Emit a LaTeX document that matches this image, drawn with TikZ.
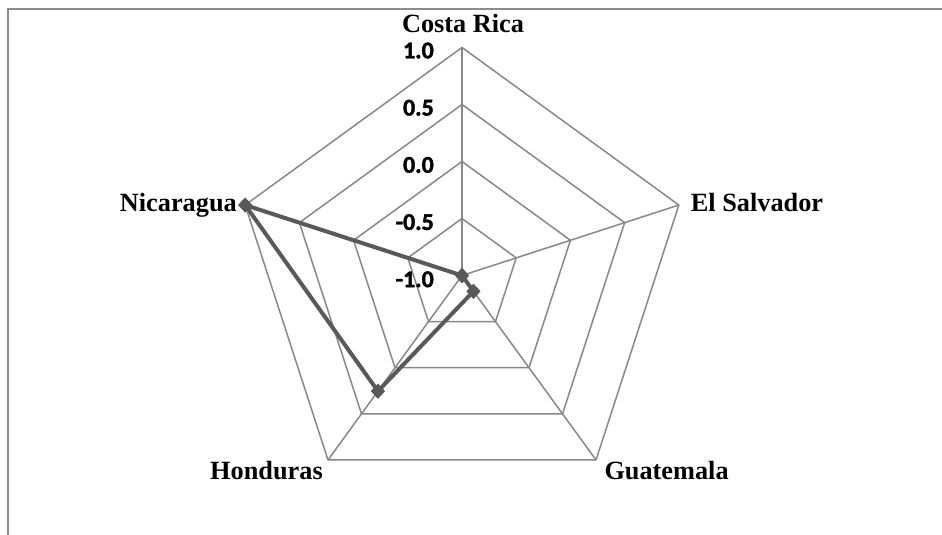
\documentclass[tikz,border=0pt]{standalone}
\usepackage{fontspec}
\setmainfont{Liberation Serif}
\newfontfamily\axisfont[FakeBold=1.6]{Carlito Bold}
\usetikzlibrary{shapes.geometric}
\definecolor{gridgray}{HTML}{888888}
\definecolor{seriesgray}{HTML}{595959}
\definecolor{framegray}{HTML}{8C8C8C}
\begin{document}
\begin{tikzpicture}[x=1pt,y=-1pt,
  gridline/.style={draw=gridgray,line width=1.5pt},
  series/.style={draw=seriesgray,line width=4pt,line join=round},
  mk/.style={diamond,fill=seriesgray,draw=none,minimum width=14pt,minimum height=15pt,inner sep=0pt},
  cat/.style={inner sep=0pt,font=\fontsize{26.3}{30}\selectfont\bfseries},
  ax/.style={inner sep=0pt,anchor=base east,font=\axisfont\fontsize{24}{28}\selectfont},
  framel/.style={draw=framegray,line width=2pt}]
\useasboundingbox (0,0) rectangle (942,535);
\fill[white] (0,0) rectangle (942,535);
\draw[framel] (8,535) -- (8,9) -- (942,9);
\coordinate (c) at (462,275.5);
\begin{scope}[shift={(462,275.5)}]
  \foreach \r in {57,114,171,228}
    \draw[gridline] (-90:\r) -- (-18:\r) -- (54:\r) -- (126:\r) -- (198:\r) -- cycle;
  \coordinate (vCR) at (-90:228);
  \coordinate (vES) at (-18:228);
  \coordinate (vGu) at (54:228);
  \coordinate (vHo) at (126:228);
  \coordinate (vNi) at (198:228);
  \coordinate (dGu) at (54:19.5);
  \coordinate (dHo) at (126:143);
\end{scope}
\foreach \v in {vCR,vES,vGu,vHo,vNi} \draw[gridline] (c) -- (\v);
\node[mk] (pCR) at (c) {};
\node[mk] (pES) at (c) {};
\node[mk] (pGu) at (dGu) {};
\node[mk] (pHo) at (dHo) {};
\node[mk] (pNi) at (vNi) {};
\draw[series] (pCR.center) -- (pES.center) -- (pGu.center) -- (pHo.center) -- (pNi.center) -- cycle;
\node[mk] at (pCR) {};
\node[mk] at (pGu) {};
\node[mk] at (pHo) {};
\node[mk] at (pNi) {};
\node[ax] (a1) at (434,58.3) {1.0};
\node[ax] (a2) at (434,115.5) {0.5};
\node[ax] (a3) at (434,172.7) {0.0};
\node[ax] (a4) at (434,229.9) {-0.5};
\node[ax] (a5) at (434,287.1) {-1.0};
\node[cat,anchor=base] (lCR) at (463,32.3) {Costa Rica};
\node[cat,anchor=base west] (lES) at (690.7,211.7) {El Salvador};
\node[cat,anchor=base west] (lGu) at (604.3,479.3) {Guatemala};
\node[cat,anchor=base west] (lHo) at (210,479.3) {Honduras};
\node[cat,anchor=base east] (lNi) at (237,211.7) {Nicaragua};
\end{tikzpicture}
\end{document}
